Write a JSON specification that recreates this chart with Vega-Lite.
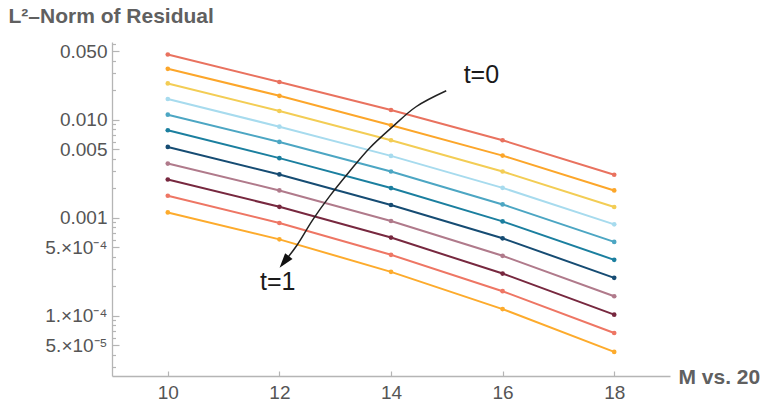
{
  "$schema": "https://vega.github.io/schema/vega-lite/v6.json",
  "width": 558,
  "height": 334,
  "autosize": {"type": "none"},
  "padding": {"left": 112, "top": 42, "right": 97, "bottom": 27},
  "background": "white",
  "config": {
    "view": {"stroke": null},
    "font": "Liberation Sans",
    "axis": {
      "grid": false,
      "domainColor": "#b5b5b5",
      "domainWidth": 1.3,
      "tickColor": "#b5b5b5",
      "tickWidth": 1.2,
      "labelColor": "#555555",
      "labelFont": "Liberation Sans",
      "labelFontSize": 19,
      "titleFont": "Liberation Sans",
      "titleFontSize": 21,
      "titleFontWeight": "bold",
      "titleColor": "#606060"
    }
  },
  "datasets": {
    "residual": [
      {"M": 10, "t": 0, "r": 0.0466}, {"M": 12, "t": 0, "r": 0.0244}, {"M": 14, "t": 0, "r": 0.01265}, {"M": 16, "t": 0, "r": 0.00621}, {"M": 18, "t": 0, "r": 0.00276},
      {"M": 10, "t": 0.1, "r": 0.0333}, {"M": 12, "t": 0.1, "r": 0.01766}, {"M": 14, "t": 0.1, "r": 0.00883}, {"M": 16, "t": 0.1, "r": 0.00433}, {"M": 18, "t": 0.1, "r": 0.00191},
      {"M": 10, "t": 0.2, "r": 0.0236}, {"M": 12, "t": 0.2, "r": 0.01236}, {"M": 14, "t": 0.2, "r": 0.00621}, {"M": 16, "t": 0.2, "r": 0.00298}, {"M": 18, "t": 0.2, "r": 0.001294},
      {"M": 10, "t": 0.3, "r": 0.01637}, {"M": 12, "t": 0.3, "r": 0.00855}, {"M": 14, "t": 0.3, "r": 0.0043}, {"M": 16, "t": 0.3, "r": 0.00203}, {"M": 18, "t": 0.3, "r": 0.000861},
      {"M": 10, "t": 0.4, "r": 0.01132}, {"M": 12, "t": 0.4, "r": 0.00597}, {"M": 14, "t": 0.4, "r": 0.00298}, {"M": 16, "t": 0.4, "r": 0.001375}, {"M": 18, "t": 0.4, "r": 0.00057},
      {"M": 10, "t": 0.5, "r": 0.00786}, {"M": 12, "t": 0.5, "r": 0.00408}, {"M": 14, "t": 0.5, "r": 0.00202}, {"M": 16, "t": 0.5, "r": 0.000923}, {"M": 18, "t": 0.5, "r": 0.000374},
      {"M": 10, "t": 0.6, "r": 0.00531}, {"M": 12, "t": 0.6, "r": 0.00278}, {"M": 14, "t": 0.6, "r": 0.001356}, {"M": 16, "t": 0.6, "r": 0.00062}, {"M": 18, "t": 0.6, "r": 0.000245},
      {"M": 10, "t": 0.7, "r": 0.00359}, {"M": 12, "t": 0.7, "r": 0.00191}, {"M": 14, "t": 0.7, "r": 0.000932}, {"M": 16, "t": 0.7, "r": 0.000411}, {"M": 18, "t": 0.7, "r": 0.000159},
      {"M": 10, "t": 0.8, "r": 0.00247}, {"M": 12, "t": 0.8, "r": 0.0013}, {"M": 14, "t": 0.8, "r": 0.000631}, {"M": 16, "t": 0.8, "r": 0.000271}, {"M": 18, "t": 0.8, "r": 0.0001031},
      {"M": 10, "t": 0.9, "r": 0.001686}, {"M": 12, "t": 0.9, "r": 0.000889}, {"M": 14, "t": 0.9, "r": 0.000421}, {"M": 16, "t": 0.9, "r": 0.000179}, {"M": 18, "t": 0.9, "r": 0.000067},
      {"M": 10, "t": 1, "r": 0.00114}, {"M": 12, "t": 1, "r": 0.000605}, {"M": 14, "t": 1, "r": 0.000282}, {"M": 16, "t": 1, "r": 0.0001175}, {"M": 18, "t": 1, "r": 0.000043}
    ],
    "arrow": [
      {"k": 0, "x": 14.99, "y": 0.01986},
      {"k": 1, "x": 14.449, "y": 0.01365},
      {"k": 2, "x": 14.03, "y": 0.00855},
      {"k": 3, "x": 13.614, "y": 0.00515},
      {"k": 4, "x": 13.256, "y": 0.00298},
      {"k": 5, "x": 12.898, "y": 0.00166},
      {"k": 6, "x": 12.6, "y": 0.000962},
      {"k": 7, "x": 12.302, "y": 0.000514},
      {"k": 8, "x": 12.086, "y": 0.000356}
    ],
    "head": [
      {"x": 12.086, "y": 0.000356}
    ],
    "labels": [
      {"x": 15.62, "y": 0.0287, "label": "t=0"},
      {"x": 11.97, "y": 0.00022, "label": "t=1"}
    ]
  },
  "resolve": {"axis": {"x": "independent", "y": "independent"}},
  "layer": [
    {
      "data": {"name": "residual"},
      "mark": {"type": "line", "strokeWidth": 2, "point": {"filled": true, "size": 22}},
      "encoding": {
        "x": {
          "field": "M", "type": "quantitative",
          "scale": {"domain": [9, 19], "nice": false, "zero": false},
          "axis": {
            "orient": "bottom",
            "values": [10, 12, 14, 16, 18],
            "format": "d",
            "tickSize": -5,
            "labelPadding": 12,
            "title": "M vs. 20",
            "titleAngle": 0,
            "titleAlign": "left",
            "titleBaseline": "middle",
            "titleX": 566,
            "titleY": 1
          }
        },
        "y": {
          "field": "r", "type": "quantitative",
          "scale": {"type": "log", "domain": [0.0000244, 0.0625], "nice": false},
          "axis": {
            "orient": "left",
            "values": [0.05, 0.01, 0.005, 0.001, 0.0005, 0.0001, 0.00005],
            "labelExpr": "datum.value > 0.04 ? '0.050' : datum.value > 0.009 ? '0.010' : datum.value > 0.004 ? '0.005' : datum.value > 0.0009 ? '0.001' : datum.value > 0.0004 ? '5.×10⁻⁴' : datum.value > 0.00009 ? '1.×10⁻⁴' : '5.×10⁻⁵'",
            "tickSize": -7,
            "labelPadding": 12,
            "title": "L²–Norm of Residual",
            "titleAngle": 0,
            "titleAlign": "left",
            "titleBaseline": "middle",
            "titleX": -104,
            "titleY": -26
          }
        },
        "color": {
          "field": "t", "type": "nominal",
          "scale": {
            "domain": [0, 0.1, 0.2, 0.3, 0.4, 0.5, 0.6, 0.7, 0.8, 0.9, 1],
            "range": ["#e9725f", "#fca62a", "#f3cd55", "#a7dbee", "#4ca6c3", "#1b7f9f", "#164c73", "#b07a8b", "#77283f", "#ee7664", "#fdab2c"]
          },
          "legend": null
        }
      }
    },
    {
      "data": {"name": "arrow"},
      "mark": {"type": "line", "color": "#222222", "strokeWidth": 1.5, "interpolate": "catmull-rom"},
      "encoding": {
        "x": {"field": "x", "type": "quantitative", "axis": null},
        "y": {
          "field": "y", "type": "quantitative",
          "axis": {
            "orient": "left",
            "values": [0.00003, 0.00004, 0.00006, 0.00007, 0.00008, 0.00009, 0.0002, 0.0003, 0.0004, 0.0006, 0.0007, 0.0008, 0.0009, 0.002, 0.003, 0.004, 0.006, 0.007, 0.008, 0.009, 0.02, 0.03, 0.04, 0.06],
            "labels": false,
            "domain": false,
            "tickSize": -3.5,
            "title": null
          }
        },
        "order": {"field": "k", "type": "quantitative"}
      }
    },
    {
      "data": {"name": "head"},
      "mark": {"type": "point", "shape": "M0,-1L0.62,1L-0.62,1Z", "filled": true, "color": "#111111", "opacity": 1, "size": 225, "angle": 218},
      "encoding": {
        "x": {"field": "x", "type": "quantitative", "axis": null},
        "y": {"field": "y", "type": "quantitative", "axis": null}
      }
    },
    {
      "data": {"name": "labels"},
      "mark": {"type": "text", "font": "Liberation Sans", "fontSize": 25, "color": "#1a1a1a", "align": "center", "baseline": "middle"},
      "encoding": {
        "x": {"field": "x", "type": "quantitative", "axis": null},
        "y": {"field": "y", "type": "quantitative", "axis": null},
        "text": {"field": "label", "type": "nominal"}
      }
    }
  ]
}
